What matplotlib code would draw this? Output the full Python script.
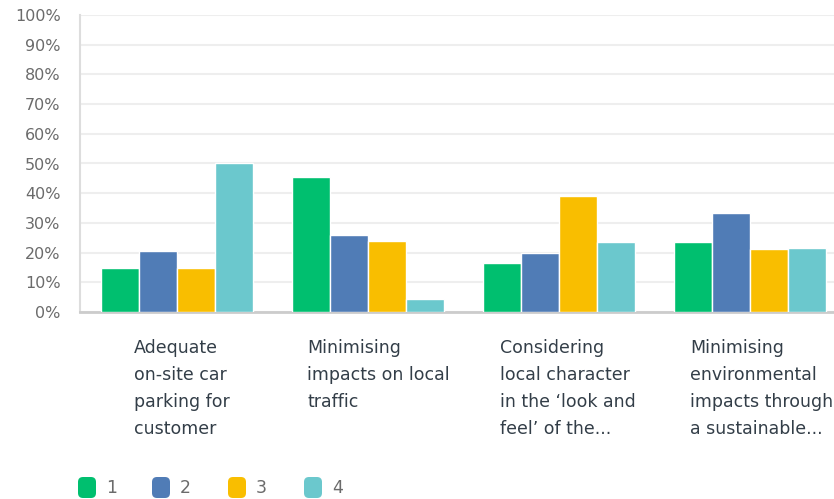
import matplotlib
matplotlib.use("Agg")
import matplotlib.pyplot as plt
from matplotlib.patches import FancyBboxPatch
from matplotlib import font_manager
import numpy as np

categories = [
    "Adequate\non-site car\nparking for\ncustomer",
    "Minimising\nimpacts on local\ntraffic",
    "Considering\nlocal character\nin the \u2018look and\nfeel\u2019 of the...",
    "Minimising\nenvironmental\nimpacts through\na sustainable...",
]
series_names = ["1", "2", "3", "4"]
values = {
    "1": [14.8, 45.5, 16.5, 23.6],
    "2": [20.5, 25.9, 19.9, 33.3],
    "3": [14.8, 23.9, 39.1, 21.2],
    "4": [50.2, 4.4, 23.6, 21.5],
}
yticks = [0, 10, 20, 30, 40, 50, 60, 70, 80, 90, 100]
colors = ["#00bf6f", "#507cb6", "#f9be00", "#6bc8cd"]

names = {f.name for f in font_manager.fontManager.ttflist}
narrow = "Liberation Sans Narrow" if "Liberation Sans Narrow" in names else "DejaVu Sans"

W, H = 834, 499
fig = plt.figure(figsize=(W / 100, H / 100), dpi=100)
ax = fig.add_axes([80 / W, (H - 312) / H, (834 - 80) / W, (312 - 15) / H])

x = np.arange(len(categories))
for k, name in enumerate(series_names):
    ax.bar(x + (k - 1.5) * 0.2, values[name], width=0.2, color=colors[k],
           edgecolor="white", linewidth=1.0, zorder=3)

ax.set_ylim(0, 100)
ax.set_xlim(-0.508, 3.44)
ax.set_yticks(yticks)
ax.set_yticklabels([f"{v}%" for v in yticks], fontsize=11.5, color="#6b6b6b",
                   family=narrow)
ax.tick_params(axis="y", length=0, pad=14)
ax.set_xticks([])
ax.yaxis.grid(True, color="#eeeeee", linewidth=1.5, zorder=0)
for s in ["top", "right"]:
    ax.spines[s].set_visible(False)
ax.spines["left"].set_color("#dddddd")
ax.spines["left"].set_linewidth(1.5)
ax.spines["bottom"].set_color("#cccccc")
ax.spines["bottom"].set_linewidth(2)

label_offsets = [0.027, 0.055, 0.046, 0.06]
for i, cat in enumerate(categories):
    ax.text(i + label_offsets[i], -9, cat, ha="center", va="top",
            multialignment="left", fontsize=12.5, color="#333e48",
            family=narrow, linespacing=1.65, transform=ax.transData,
            clip_on=False)

# legend
leg_x = [78, 152, 228, 304]
for k, name in enumerate(series_names):
    px = leg_x[k]
    patch = FancyBboxPatch((px / W, (H - 498) / H), 18 / W, 21 / H,
                           boxstyle="round,pad=0,rounding_size=0.006",
                           transform=fig.transFigure, facecolor=colors[k],
                           edgecolor="none", mutation_aspect=W / H)
    fig.patches.append(patch)
    fig.text((px + 28) / W, (H - 488) / H, name, ha="left", va="center",
             fontsize=12.5, color="#6b6b6b", family=narrow)

fig.savefig("out.png", dpi=100)
